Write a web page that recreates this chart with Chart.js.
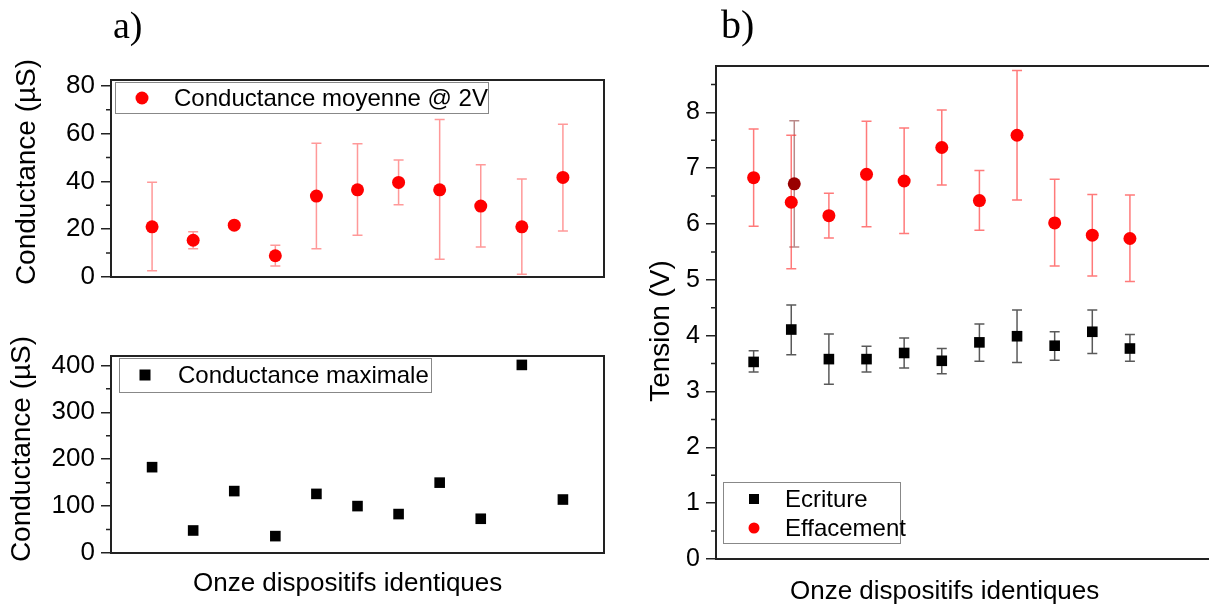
<!DOCTYPE html>
<html>
<head>
<meta charset="utf-8">
<script src="https://cdn.jsdelivr.net/npm/chart.js@4.4.1/dist/chart.umd.min.js"></script>
<style>
html, body { margin: 0; padding: 0; background: #fff; width: 1209px; height: 605px; overflow: hidden; }
canvas { position: absolute; left: 0; top: 0; }
</style>
</head>
<body>
<canvas id="chartA1" width="1209" height="605"></canvas>
<canvas id="chartA2" width="1209" height="605"></canvas>
<canvas id="chartB" width="1250" height="605"></canvas>
<script>
// eleven identical devices
var devices = [1, 2, 3, 4, 5, 6, 7, 8, 9, 10, 11];

// a) top : mean conductance @ 2V (µS)
var condMoyenne = [21, 15.4, 21.7, 8.9, 33.9, 36.5, 39.6, 36.5, 29.7, 21, 41.7];
var condMoyenneHigh = [39.7, 18.9, 21.7, 13.3, 56, 55.8, 49, 66, 47, 41, 64];
var condMoyenneLow = [2.6, 11.8, 21.7, 4.6, 11.8, 17.5, 30.3, 7.4, 12.6, 1.1, 19.3];

// a) bottom : max conductance (µS)
var condMaximale = [183, 48, 132, 36, 126, 100, 83, 150, 73, 401, 114];

// b) voltages (V)
var ecriture = [3.53, 4.11, 3.58, 3.58, 3.69, 3.55, 3.88, 3.99, 3.82, 4.07, 3.77];
var ecritureHigh = [3.73, 4.55, 4.03, 3.81, 3.96, 3.77, 4.21, 4.46, 4.07, 4.46, 4.02];
var ecritureLow = [3.35, 3.66, 3.13, 3.35, 3.42, 3.32, 3.54, 3.52, 3.56, 3.68, 3.54];
var effacement = [6.83, 6.39, 6.15, 6.89, 6.77, 7.37, 6.42, 7.59, 6.02, 5.80, 5.74];
var effacementHigh = [7.70, 7.59, 6.55, 7.84, 7.72, 8.04, 6.96, 8.75, 6.80, 6.53, 6.52];
var effacementLow = [5.96, 5.20, 5.75, 5.95, 5.83, 6.70, 5.89, 6.43, 5.25, 5.07, 4.97];
// overlapping dark point next to device 2
var extraX = [2.08];
var extraY = [6.72];
var extraHigh = [7.85];
var extraLow = [5.59];

// tick labels
var ticksA1 = [0, 20, 40, 60, 80];
var minorA1 = [10, 30, 50, 70];
var ticksA2 = [0, 100, 200, 300, 400];
var minorA2 = [50, 150, 250, 350];
var ticksB = [0, 1, 2, 3, 4, 5, 6, 7, 8];
var minorB = [0.5, 1.5, 2.5, 3.5, 4.5, 5.5, 6.5, 7.5, 8.5];

var SANS = '"Liberation Sans", Arial, sans-serif';
var SERIF = '"Liberation Serif", "Times New Roman", serif';

function pts(xs, ys) {
  return xs.map(function (x, i) { return { x: x, y: ys[i] }; });
}

var errorBars = {
  id: 'errorBars',
  beforeDatasetsDraw: function (chart) {
    var ctx = chart.ctx, xs = chart.scales.x, ys = chart.scales.y;
    chart.data.datasets.forEach(function (ds) {
      if (!ds.errHigh) return;
      ctx.save();
      ctx.strokeStyle = ds.errColor;
      ctx.lineWidth = 1.5;
      ctx.beginPath();
      ds.data.forEach(function (p, i) {
        var px = xs.getPixelForValue(p.x);
        var top = ys.getPixelForValue(ds.errHigh[i]);
        var bot = ys.getPixelForValue(ds.errLow[i]);
        if (Math.abs(bot - top) < 1) return;
        ctx.moveTo(px, top); ctx.lineTo(px, bot);
        ctx.moveTo(px - 5, top); ctx.lineTo(px + 5, top);
        ctx.moveTo(px - 5, bot); ctx.lineTo(px + 5, bot);
      });
      ctx.stroke();
      ctx.restore();
    });
  }
};

var frame = {
  id: 'frame',
  afterDraw: function (chart, args, opts) {
    var a = chart.chartArea, ctx = chart.ctx, ys = chart.scales.y;
    ctx.save();
    ctx.strokeStyle = '#222';
    ctx.lineWidth = 2;
    ctx.strokeRect(a.left, a.top, a.right - a.left, a.bottom - a.top);
    ctx.lineWidth = 1.5;
    ctx.beginPath();
    opts.minor.forEach(function (v) {
      var py = ys.getPixelForValue(v);
      if (py < a.top) return;
      ctx.moveTo(a.left - 5, py); ctx.lineTo(a.left, py);
    });
    ctx.stroke();
    ctx.restore();
  }
};

var boxLegend = {
  id: 'boxLegend',
  afterDraw: function (chart, args, opts) {
    var ctx = chart.ctx, b = opts.box;
    ctx.save();
    ctx.fillStyle = '#fff';
    ctx.fillRect(b[0], b[1], b[2], b[3]);
    ctx.strokeStyle = '#888';
    ctx.lineWidth = 1;
    ctx.strokeRect(b[0] + 0.5, b[1] + 0.5, b[2], b[3]);
    ctx.font = '24px ' + SANS;
    ctx.textBaseline = 'middle';
    opts.items.forEach(function (it) {
      ctx.fillStyle = it.color;
      if (it.shape === 'circle') {
        ctx.beginPath();
        ctx.arc(it.x, it.y, it.size / 2, 0, Math.PI * 2);
        ctx.fill();
      } else {
        ctx.fillRect(it.x - it.size / 2, it.y - it.size / 2, it.size, it.size);
      }
      ctx.fillStyle = '#000';
      ctx.fillText(it.label, it.tx, it.y + 1);
    });
    ctx.restore();
  }
};

var texts = {
  id: 'texts',
  afterDraw: function (chart, args, opts) {
    var ctx = chart.ctx;
    opts.items.forEach(function (t) {
      ctx.save();
      ctx.font = t.font;
      ctx.fillStyle = '#000';
      ctx.textAlign = t.align || 'left';
      ctx.textBaseline = t.baseline || 'alphabetic';
      ctx.translate(t.x, t.y);
      if (t.rotate) ctx.rotate(t.rotate * Math.PI / 180);
      ctx.fillText(t.text, 0, 0);
      ctx.restore();
    });
  }
};

function yScale(max, ticks, width, size) {
  return {
    type: 'linear',
    min: 0,
    max: max,
    afterFit: function (s) { s.width = width; },
    afterBuildTicks: function (s) { s.ticks = ticks.map(function (v) { return { value: v }; }); },
    grid: { drawOnChartArea: false, drawTicks: true, tickLength: 10, color: '#222', lineWidth: 1.5 },
    border: { display: true, color: '#222', width: 2 },
    ticks: { color: '#000', padding: 6, autoSkip: false, font: { family: SANS, size: size } }
  };
}

function baseOptions(pad, xmax, y, extra) {
  var plugins = { legend: { display: false }, tooltip: { enabled: false } };
  Object.keys(extra).forEach(function (k) { plugins[k] = extra[k]; });
  return {
    responsive: false,
    animation: false,
    layout: { padding: pad },
    scales: { x: { type: 'linear', min: 0, max: xmax, display: false }, y: y },
    plugins: plugins
  };
}

new Chart(document.getElementById('chartA1'), {
  type: 'scatter',
  data: {
    datasets: [{
      label: 'Conductance moyenne @ 2V',
      data: pts(devices, condMoyenne),
      errHigh: condMoyenneHigh, errLow: condMoyenneLow, errColor: 'rgba(255,70,70,0.55)',
      backgroundColor: '#ff0000', borderWidth: 0, pointRadius: 6.5, pointStyle: 'circle'
    }]
  },
  options: baseOptions({ left: 0, top: 80, right: 605, bottom: 328 }, 12, yScale(82.5, ticksA1, 111, 26), {
    frame: { minor: minorA1 },
    boxLegend: {
      box: [115, 82, 373, 31],
      items: [{ label: 'Conductance moyenne @ 2V', shape: 'circle', color: '#ff0000', size: 13, x: 142, y: 98, tx: 174 }]
    },
    texts: {
      items: [
        { text: 'a)', x: 113, y: 38, font: '38px ' + SERIF },
        { text: 'Conductance (µS)', x: 27, y: 172, rotate: -90, align: 'center', baseline: 'middle', font: '28px ' + SANS }
      ]
    }
  }),
  plugins: [errorBars, frame, boxLegend, texts]
});

new Chart(document.getElementById('chartA2'), {
  type: 'scatter',
  data: {
    datasets: [{
      label: 'Conductance maximale',
      data: pts(devices, condMaximale),
      backgroundColor: '#000', borderWidth: 0, pointRadius: 7.5, pointStyle: 'rect'
    }]
  },
  options: baseOptions({ left: 0, top: 356, right: 605, bottom: 52 }, 12, yScale(420, ticksA2, 111, 26), {
    frame: { minor: minorA2 },
    boxLegend: {
      box: [119, 358, 312, 34],
      items: [{ label: 'Conductance maximale', shape: 'rect', color: '#000', size: 11, x: 145, y: 375, tx: 178 }]
    },
    texts: {
      items: [
        { text: 'Conductance (µS)', x: 22, y: 449, rotate: -90, align: 'center', baseline: 'middle', font: '28px ' + SANS },
        { text: 'Onze dispositifs identiques', x: 193, y: 591, font: '26px ' + SANS }
      ]
    }
  }),
  plugins: [errorBars, frame, boxLegend, texts]
});

new Chart(document.getElementById('chartB'), {
  type: 'scatter',
  data: {
    datasets: [{
      label: 'Effacement (2)',
      data: pts(extraX, extraY),
      errHigh: extraHigh, errLow: extraLow, errColor: 'rgba(130,40,40,0.55)',
      backgroundColor: '#990000', borderWidth: 0, pointRadius: 6.5, pointStyle: 'circle'
    }, {
      label: 'Effacement',
      data: pts(devices, effacement),
      errHigh: effacementHigh, errLow: effacementLow, errColor: 'rgba(255,50,50,0.65)',
      backgroundColor: '#ff0000', borderWidth: 0, pointRadius: 6.5, pointStyle: 'circle'
    }, {
      label: 'Ecriture',
      data: pts(devices, ecriture),
      errHigh: ecritureHigh, errLow: ecritureLow, errColor: 'rgba(0,0,0,0.65)',
      backgroundColor: '#000', borderWidth: 0, pointRadius: 7.5, pointStyle: 'rect'
    }]
  },
  options: baseOptions({ left: 0, top: 66, right: 26, bottom: 46 }, 13.5, yScale(8.83, ticksB, 716, 25), {
    frame: { minor: minorB },
    boxLegend: {
      box: [723, 482, 177, 61],
      items: [
        { label: 'Ecriture', shape: 'rect', color: '#000', size: 10, x: 754, y: 499, tx: 785 },
        { label: 'Effacement', shape: 'circle', color: '#ff0000', size: 11, x: 754, y: 528, tx: 785 }
      ]
    },
    texts: {
      items: [
        { text: 'b)', x: 721, y: 38, font: '40px ' + SERIF },
        { text: 'Tension (V)', x: 661, y: 331, rotate: -90, align: 'center', baseline: 'middle', font: '28px ' + SANS },
        { text: 'Onze dispositifs identiques', x: 790, y: 599, font: '26px ' + SANS }
      ]
    }
  }),
  plugins: [errorBars, frame, boxLegend, texts]
});
</script>
</body>
</html>
